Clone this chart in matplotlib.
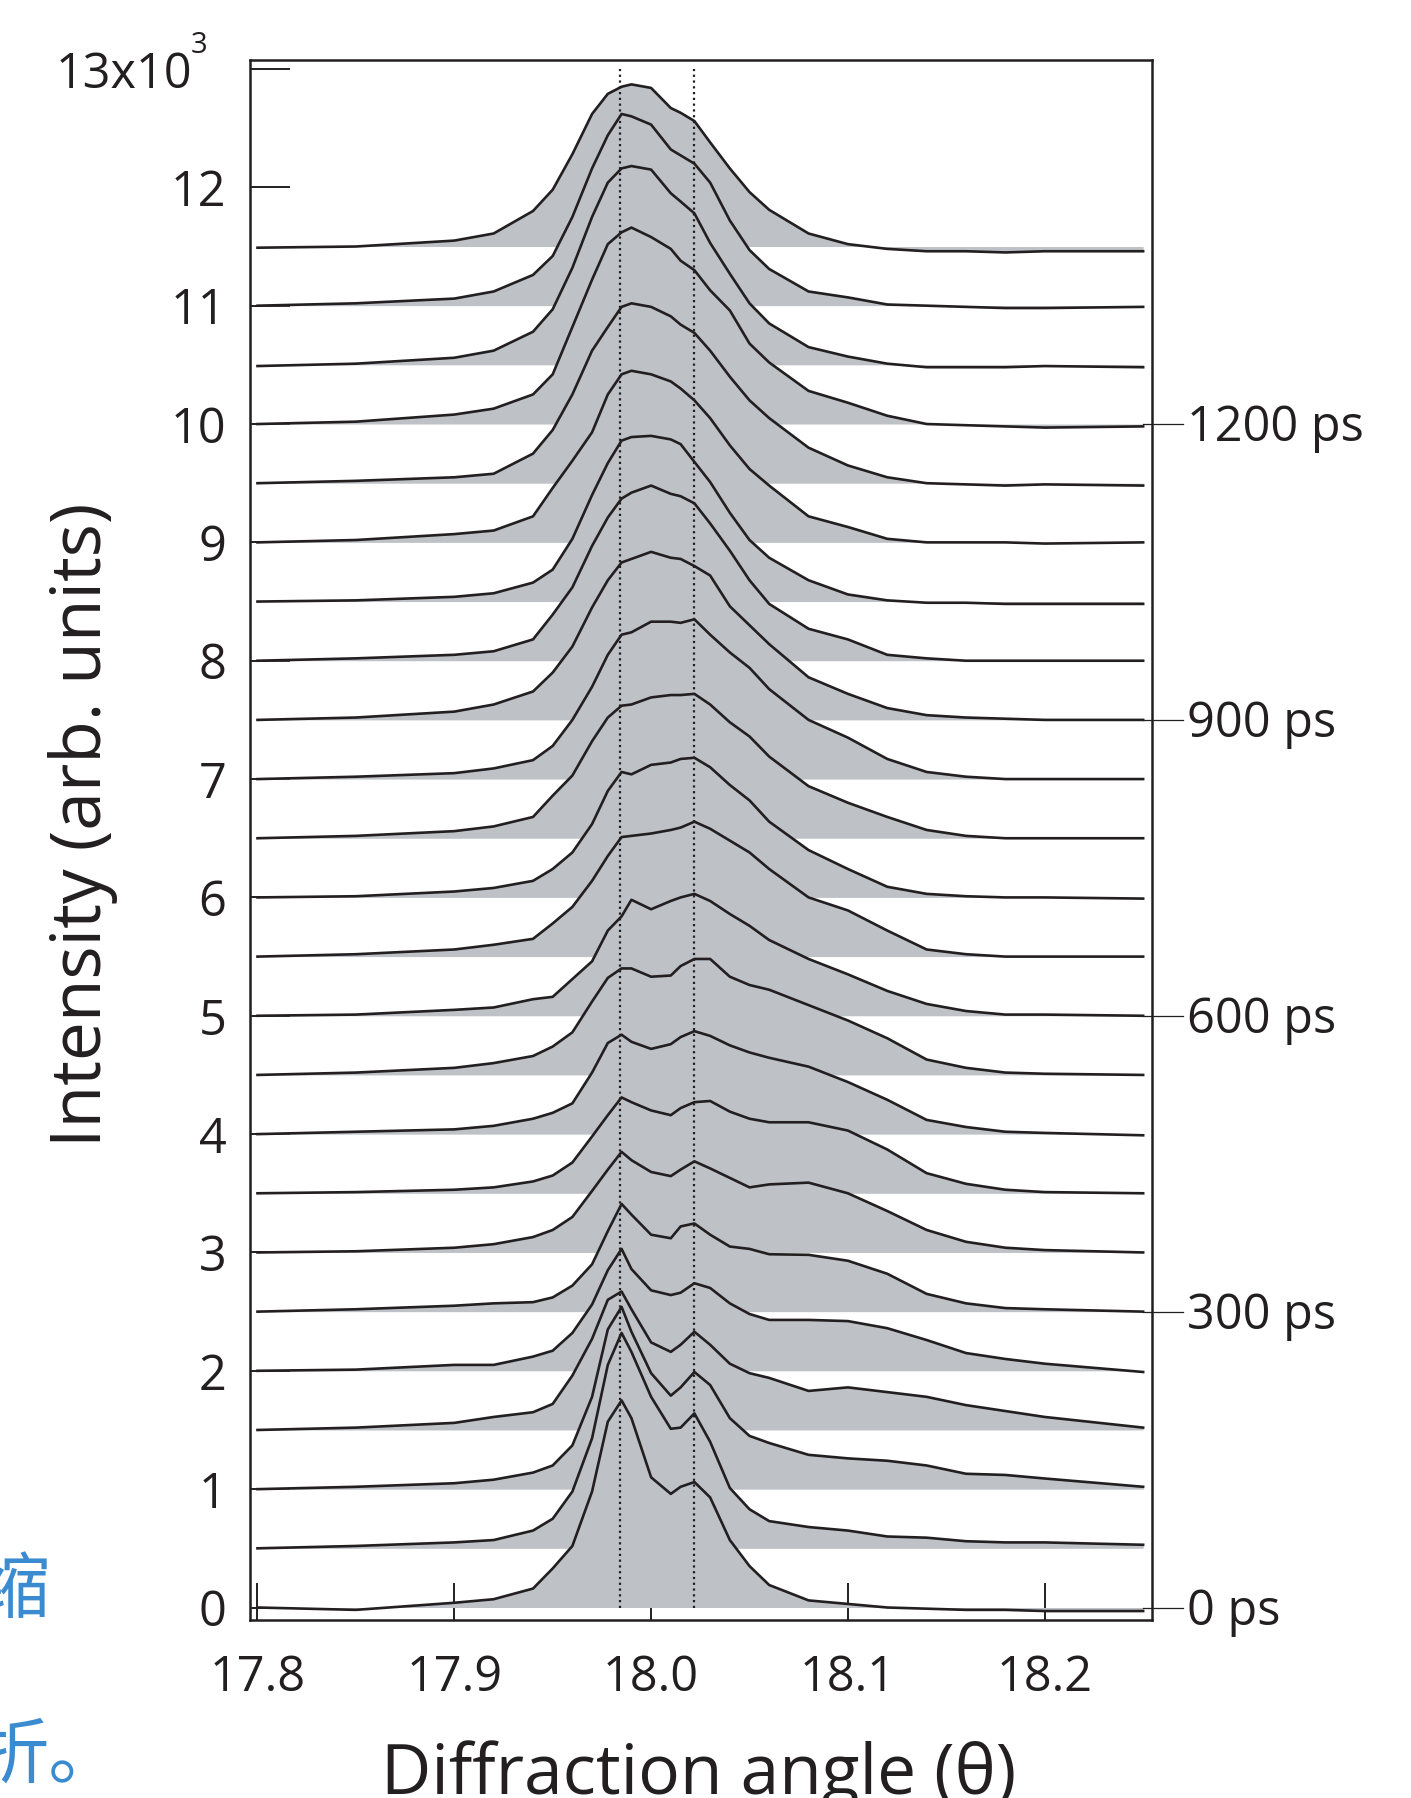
import numpy as np
import matplotlib.pyplot as plt

plt.rcParams['font.family'] = ['Open Sans', 'DejaVu Sans']

# diffraction angle grid (deg)
theta = [17.80, 17.85, 17.90, 17.92, 17.94, 17.95, 17.96, 17.97, 17.978, 17.985,
         17.99, 18.00, 18.01, 18.015, 18.022, 18.03, 18.04, 18.05, 18.06, 18.08,
         18.10, 18.12, 18.14, 18.16, 18.18, 18.20, 18.25]

# intensity above each baseline (x10^3), one list per delay
i0 = [0.00, -0.02, 0.04, 0.07, 0.16, 0.33, 0.52, 0.98, 1.57, 1.75, 1.60, 1.10, 0.96, 1.02, 1.06, 0.93, 0.57, 0.35, 0.19, 0.06, 0.03, 0.00, -0.01, -0.02, -0.02, -0.03, -0.03]
i60 = [0.00, 0.02, 0.05, 0.07, 0.15, 0.25, 0.48, 0.93, 1.55, 1.82, 1.66, 1.28, 1.01, 1.02, 1.14, 0.90, 0.51, 0.33, 0.23, 0.18, 0.15, 0.10, 0.09, 0.06, 0.05, 0.05, 0.03]
i120 = [0.00, 0.02, 0.05, 0.08, 0.14, 0.20, 0.37, 0.78, 1.35, 1.54, 1.33, 0.98, 0.79, 0.86, 0.99, 0.88, 0.60, 0.45, 0.39, 0.29, 0.26, 0.24, 0.20, 0.13, 0.12, 0.09, 0.02]
i180 = [0.00, 0.02, 0.06, 0.11, 0.15, 0.22, 0.46, 0.77, 1.10, 1.17, 1.02, 0.74, 0.66, 0.72, 0.83, 0.72, 0.56, 0.48, 0.44, 0.33, 0.36, 0.32, 0.28, 0.21, 0.16, 0.11, 0.02]
i240 = [0.00, 0.01, 0.05, 0.05, 0.12, 0.17, 0.32, 0.56, 0.85, 1.03, 0.86, 0.68, 0.64, 0.66, 0.74, 0.70, 0.57, 0.48, 0.43, 0.43, 0.42, 0.36, 0.26, 0.15, 0.10, 0.06, -0.01]
i300 = [0.00, 0.02, 0.05, 0.07, 0.08, 0.12, 0.22, 0.40, 0.68, 0.91, 0.82, 0.65, 0.62, 0.72, 0.745, 0.65, 0.55, 0.53, 0.485, 0.48, 0.43, 0.32, 0.15, 0.07, 0.03, 0.02, 0.00]
i360 = [0.00, 0.01, 0.04, 0.07, 0.13, 0.19, 0.30, 0.52, 0.70, 0.85, 0.78, 0.68, 0.645, 0.70, 0.77, 0.71, 0.63, 0.55, 0.575, 0.59, 0.50, 0.35, 0.19, 0.09, 0.04, 0.02, 0.00]
i420 = [0.00, 0.01, 0.03, 0.05, 0.10, 0.15, 0.26, 0.48, 0.66, 0.81, 0.77, 0.70, 0.66, 0.72, 0.77, 0.78, 0.69, 0.63, 0.60, 0.60, 0.53, 0.37, 0.17, 0.08, 0.03, 0.01, 0.00]
i480 = [0.00, 0.02, 0.04, 0.07, 0.13, 0.18, 0.26, 0.52, 0.77, 0.84, 0.78, 0.72, 0.76, 0.82, 0.87, 0.83, 0.75, 0.69, 0.645, 0.57, 0.44, 0.29, 0.12, 0.06, 0.02, 0.01, -0.01]
i540 = [0.00, 0.02, 0.06, 0.10, 0.16, 0.24, 0.36, 0.62, 0.82, 0.90, 0.90, 0.83, 0.84, 0.92, 0.98, 0.98, 0.83, 0.76, 0.72, 0.59, 0.46, 0.31, 0.13, 0.06, 0.02, 0.01, 0.00]
i600 = [0.00, 0.01, 0.05, 0.07, 0.14, 0.16, 0.31, 0.46, 0.72, 0.84, 0.98, 0.90, 0.97, 1.00, 1.03, 0.97, 0.86, 0.76, 0.64, 0.48, 0.35, 0.21, 0.10, 0.04, 0.01, 0.01, 0.00]
i660 = [0.00, 0.02, 0.06, 0.10, 0.15, 0.28, 0.42, 0.64, 0.85, 1.01, 1.02, 1.04, 1.07, 1.09, 1.14, 1.08, 0.98, 0.88, 0.74, 0.50, 0.39, 0.22, 0.06, 0.02, 0.00, 0.00, 0.00]
i720 = [0.00, 0.01, 0.05, 0.08, 0.14, 0.24, 0.38, 0.62, 0.90, 1.06, 1.04, 1.12, 1.14, 1.17, 1.18, 1.10, 0.95, 0.82, 0.64, 0.40, 0.24, 0.09, 0.03, 0.01, 0.00, 0.00, -0.01]
i780 = [0.00, 0.02, 0.06, 0.10, 0.18, 0.36, 0.53, 0.82, 1.02, 1.12, 1.13, 1.19, 1.21, 1.21, 1.22, 1.13, 0.98, 0.86, 0.69, 0.44, 0.30, 0.18, 0.07, 0.02, 0.00, 0.00, 0.00]
i840 = [0.00, 0.02, 0.05, 0.09, 0.16, 0.28, 0.50, 0.78, 1.05, 1.22, 1.24, 1.33, 1.33, 1.32, 1.35, 1.22, 1.07, 0.94, 0.76, 0.50, 0.35, 0.17, 0.06, 0.02, 0.00, 0.00, 0.00]
i900 = [0.00, 0.02, 0.07, 0.13, 0.24, 0.40, 0.62, 0.95, 1.18, 1.33, 1.36, 1.42, 1.37, 1.36, 1.30, 1.22, 0.96, 0.80, 0.64, 0.36, 0.22, 0.10, 0.04, 0.02, 0.01, 0.00, 0.00]
i960 = [0.00, 0.02, 0.05, 0.08, 0.18, 0.39, 0.62, 0.97, 1.21, 1.37, 1.42, 1.48, 1.41, 1.39, 1.33, 1.16, 0.93, 0.68, 0.48, 0.27, 0.18, 0.05, 0.02, 0.00, 0.00, 0.00, 0.00]
i1020 = [0.00, 0.01, 0.04, 0.07, 0.16, 0.27, 0.53, 0.90, 1.17, 1.36, 1.39, 1.40, 1.37, 1.33, 1.18, 1.01, 0.75, 0.52, 0.37, 0.18, 0.06, 0.01, -0.01, -0.01, -0.02, -0.02, -0.02]
i1080 = [0.00, 0.02, 0.07, 0.10, 0.22, 0.46, 0.69, 0.93, 1.25, 1.42, 1.45, 1.42, 1.36, 1.30, 1.20, 1.05, 0.82, 0.62, 0.48, 0.22, 0.13, 0.03, 0.00, 0.00, 0.00, -0.01, 0.00]
i1140 = [0.00, 0.02, 0.05, 0.08, 0.25, 0.45, 0.75, 1.12, 1.32, 1.49, 1.52, 1.49, 1.41, 1.34, 1.27, 1.12, 0.90, 0.70, 0.55, 0.30, 0.15, 0.05, 0.00, -0.01, -0.02, -0.01, -0.02]
i1200 = [0.00, 0.02, 0.08, 0.13, 0.25, 0.42, 0.82, 1.22, 1.52, 1.62, 1.66, 1.58, 1.48, 1.38, 1.30, 1.13, 0.96, 0.68, 0.52, 0.28, 0.18, 0.07, 0.00, -0.01, -0.02, -0.03, -0.02]
i1260 = [-0.01, 0.01, 0.06, 0.12, 0.28, 0.47, 0.82, 1.25, 1.54, 1.66, 1.68, 1.65, 1.45, 1.38, 1.28, 1.03, 0.77, 0.52, 0.35, 0.15, 0.07, 0.01, -0.02, -0.02, -0.02, -0.01, -0.02]
i1320 = [0.00, 0.02, 0.06, 0.12, 0.26, 0.42, 0.75, 1.16, 1.44, 1.62, 1.60, 1.53, 1.32, 1.27, 1.20, 1.04, 0.72, 0.47, 0.31, 0.12, 0.07, 0.01, 0.00, -0.01, -0.02, -0.02, -0.01]
i1380 = [-0.01, 0.00, 0.05, 0.11, 0.30, 0.48, 0.78, 1.12, 1.29, 1.35, 1.37, 1.34, 1.17, 1.13, 1.06, 0.88, 0.66, 0.46, 0.31, 0.11, 0.02, -0.02, -0.04, -0.04, -0.05, -0.04, -0.04]

profiles = [i0, i60, i120, i180, i240, i300, i360, i420, i480, i540, i600, i660,
            i720, i780, i840, i900, i960, i1020, i1080, i1140, i1200, i1260, i1320, i1380]
step = 0.5            # vertical offset between delays (x10^3)
delay_step = 60       # ps per trace
labelled = [0, 300, 600, 900, 1200]
peak_lines = [17.984, 18.022]

ink = '#231f20'
grey = '#bec2c7'

fig = plt.figure(figsize=(14.11, 17.98), dpi=100)
ax = fig.add_axes([250/1411, 178/1798, 902/1411, 1560/1798])
ax.set_xlim(17.7962, 18.2545)
ax.set_ylim(-0.1056, 13.076)
ax.set_axisbelow(True)

th = np.array(theta)
for k, prof in enumerate(profiles):
    base = k * step
    y = base + np.array(prof)
    ax.fill_between(th, base, y, color=grey, lw=0, zorder=1)
for k, prof in enumerate(profiles):
    base = k * step
    ax.plot(th, base + np.array(prof), color=ink, lw=1.9, zorder=2)

ax.vlines(peak_lines, 0, 13, colors=ink, linestyles=(0, (1, 1.6)), lw=1.6, zorder=3)

# delay labels on the right
for d in labelled:
    yv = d / delay_step * step
    ax.plot([18.25, 18.2705], [yv, yv], color=ink, lw=0.9, clip_on=False, zorder=3)
    ax.annotate(f'{d} ps', xy=(18.2725, yv), xytext=(0, -12.5), textcoords='offset points',
                ha='left', va='baseline', fontsize=35, color=ink, annotation_clip=False)

for s in ax.spines.values():
    s.set_linewidth(1.8)
    s.set_color(ink)

ax.set_xticks([17.8, 17.9, 18.0, 18.1, 18.2])
ax.set_xticklabels(['17.8', '17.9', '18.0', '18.1', '18.2'])
ax.set_yticks(range(14))
ax.set_yticklabels([str(i) for i in range(13)] + [''])
ax.tick_params(axis='x', direction='in', length=27, width=1.4, pad=24,
               labelsize=35, colors=ink)
ax.tick_params(axis='y', direction='in', length=29, width=1.4, pad=17,
               labelsize=35, colors=ink)

fig.text(192/1411, 1 - 88/1798, '13x10', ha='right', va='baseline', fontsize=35, color=ink)
fig.text(191/1411, 1 - 53/1798, '3', ha='left', va='baseline', fontsize=21, color=ink)

fig.text(83/1411, 1 - 825/1798, 'Intensity (arb. units)', rotation=90,
         ha='center', va='center', fontsize=50, color=ink)
fig.text(699/1411, 1 - 1794/1798, 'Diffraction angle (\u03b8)', ha='center',
         va='baseline', fontsize=50, color=ink)

# bits of the surrounding page text, cut off at the left edge
cjk = ['Noto Sans CJK SC', 'DejaVu Sans']
fig.text(-23/1411, 1 - 1612/1798, '缩', ha='left', va='baseline', fontsize=52,
         color='#3b8bd0', family=cjk)
fig.text(-24/1411, 1 - 1778/1798, '折。', ha='left', va='baseline', fontsize=52,
         color='#3b8bd0', family=cjk)

fig.savefig('out.png', dpi=100)
